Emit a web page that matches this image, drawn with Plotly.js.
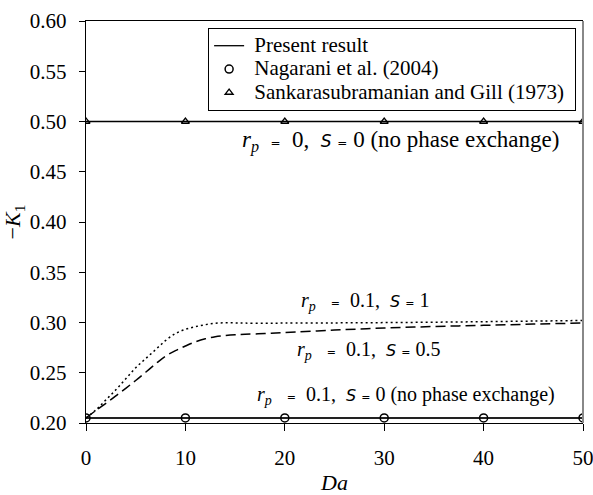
<!DOCTYPE html>
<html>
<head>
<meta charset="utf-8">
<script src="https://cdn.plot.ly/plotly-3.0.1.min.js"></script>
<style>html,body{margin:0;padding:0;background:#fff;}#chart{width:593px;height:495px;}</style>
</head>
<body>
<div id="chart"></div>
<script>
// ---- data ----
const daMarks = [0, 10, 20, 30, 40, 50];
const singlePhase = [0.5, 0.5, 0.5, 0.5, 0.5, 0.5];       // r_p = 0, S = 0
const noExchange = [0.205, 0.205, 0.205, 0.205, 0.205, 0.205]; // r_p = 0.1, S = 0
const nagarani = [0.205, 0.205, 0.205, 0.205, 0.205, 0.205];
const sankara = [0.5, 0.5, 0.5, 0.5, 0.5, 0.5];

const daCurve = [0,1,2,3,4,5,6,7,8,9,10,11,12,13,14,15,16,18,20,25,30,35,40,45,50];
const kS1 = [0.205,0.213,0.223,0.233,0.244,0.255,0.264,0.273,0.282,0.289,0.2932,0.2958,0.2978,0.2992,0.2997,0.2996,0.2994,0.2993,0.2994,0.2996,0.2999,0.3003,0.3008,0.3014,0.302];
const kS05 = [0.205,0.2125,0.2195,0.227,0.2345,0.2423,0.2505,0.2588,0.2665,0.272,0.2766,0.2808,0.2838,0.2858,0.287,0.2878,0.2883,0.289,0.29,0.2925,0.2945,0.296,0.2972,0.2984,0.2995];

const xTicks = [0, 10, 20, 30, 40, 50];
const yTicks = [0.20, 0.25, 0.30, 0.35, 0.40, 0.45, 0.50, 0.55, 0.60];
const yTickText = ['0.20','0.25','0.30','0.35','0.40','0.45','0.50','0.55','0.60'];

const legendNames = ['Present result', 'Nagarani et al. (2004)', 'Sankarasubramanian and Gill (1973)'];

const serif = 'Liberation Serif';
const nb = '\u00A0';
const sp = n => nb.repeat(n);
const S = "<span style=\"font-family:'DejaVu Sans';font-style:italic;font-size:16px\">S</span>";
const S1 = "<span style=\"font-family:'DejaVu Sans';font-style:italic;font-size:17px\">S</span>";
const eq = "<span style=\"font-family:'DejaVu Sans';font-size:11px\">=</span>";
const eq1 = "<span style=\"font-family:'DejaVu Sans';font-size:12px\">=</span>";
const rp = "<i>r</i><sub><i>p</i></sub>";
const lab = (rv, sv) => rp + sp(3) + eq + sp(2) + rv + ',' + sp(2) + S + sp(1) + eq + sp(1) + sv;
const lab1 = (rv, sv) => rp + sp(2) + eq1 + sp(2) + rv + ',' + sp(2) + S1 + sp(1) + eq1 + sp(1) + sv;
const big = (t, trail) => "<span style=\"font-size:21px\">" + nb + t + sp(trail) + "</span>";

const traces = [
  {x: daMarks, y: singlePhase, mode: 'lines', name: big(legendNames[0], 0),
   line: {color: '#000', width: 1.3}, showlegend: true},
  {x: daMarks, y: noExchange, mode: 'lines', name: legendNames[0],
   line: {color: '#222', width: 2}, showlegend: false},
  {x: daCurve, y: kS1, mode: 'lines', name: 'S = 1',
   line: {color: '#000', width: 1.5, dash: '2px,3px', shape: 'spline'}, showlegend: false},
  {x: daCurve, y: kS05, mode: 'lines', name: 'S = 0.5',
   line: {color: '#000', width: 1.5, dash: '10px,5px', shape: 'spline'}, showlegend: false},
  {x: daMarks, y: nagarani, mode: 'markers', name: big(legendNames[1], 0),
   marker: {symbol: 'circle-open', size: 8, color: '#000', line: {width: 1.5}}},
  {x: daMarks, y: sankara, mode: 'markers', name: big(legendNames[2], 1),
   marker: {symbol: 'triangle-up-open', size: 7, color: '#000', line: {width: 1.3}}}
];

const layout = {
  width: 593, height: 495,
  margin: {l: 86, r: 9.5, t: 20.7, b: 71.7},
  paper_bgcolor: '#fff', plot_bgcolor: '#fff',
  font: {family: serif, size: 20, color: '#000'},
  showlegend: true,
  legend: {x: 0.2457, y: 0.9826, xanchor: 'left', yanchor: 'top',
           bgcolor: '#fff', bordercolor: '#000', borderwidth: 1,
           font: {family: serif, size: 15.7, color: '#000'}, itemwidth: 30},
  xaxis: {range: [0, 50], tickvals: xTicks, ticktext: xTicks.map(String),
          showgrid: false, zeroline: false, showline: true, linecolor: '#000', linewidth: 1.2,
          mirror: true, ticks: 'outside', ticklen: 7, tickcolor: '#000', tickwidth: 1,
          tickfont: {family: serif, size: 21}, ticklabelstandoff: 9, ticklabeloverflow: 'allow',
          title: {text: '<i>Da</i>', font: {family: serif, size: 22}, standoff: 16}},
  yaxis: {range: [0.20, 0.60], tickvals: yTicks, ticktext: yTickText,
          showgrid: false, zeroline: false, showline: true, linecolor: '#000', linewidth: 1.2,
          ticks: 'outside', ticklen: 6, tickcolor: '#000', tickwidth: 1,
          tickfont: {family: serif, size: 21}, ticklabelstandoff: 8,
          title: {text: '\u2212<i>K</i><sub>1</sub>', font: {family: serif, size: 22}, standoff: 4}},
  shapes: [
    {type: 'line', xref: 'paper', yref: 'paper', x0: 1, x1: 1, y0: 0, y1: 1,
     line: {color: '#888', width: 2}}
  ],
  annotations: [
    {x: 15.5, y: 0.4805, xref: 'x', yref: 'y', showarrow: false, xanchor: 'left', yanchor: 'middle',
     text: lab1('0', '0 (no phase exchange)'), font: {family: serif, size: 23}},
    {x: 21.4, y: 0.3205, xref: 'x', yref: 'y', showarrow: false, xanchor: 'left', yanchor: 'middle',
     text: lab('0.1', '1'), font: {family: serif, size: 20}},
    {x: 21.05, y: 0.2725, xref: 'x', yref: 'y', showarrow: false, xanchor: 'left', yanchor: 'middle',
     text: lab('0.1', '0.5'), font: {family: serif, size: 20}},
    {x: 16.97, y: 0.2278, xref: 'x', yref: 'y', showarrow: false, xanchor: 'left', yanchor: 'middle',
     text: lab('0.1', '0 (no phase exchange)'), font: {family: serif, size: 20}}
  ]
};

Plotly.newPlot('chart', traces, layout, {displayModeBar: false, staticPlot: true});
</script>
</body>
</html>
